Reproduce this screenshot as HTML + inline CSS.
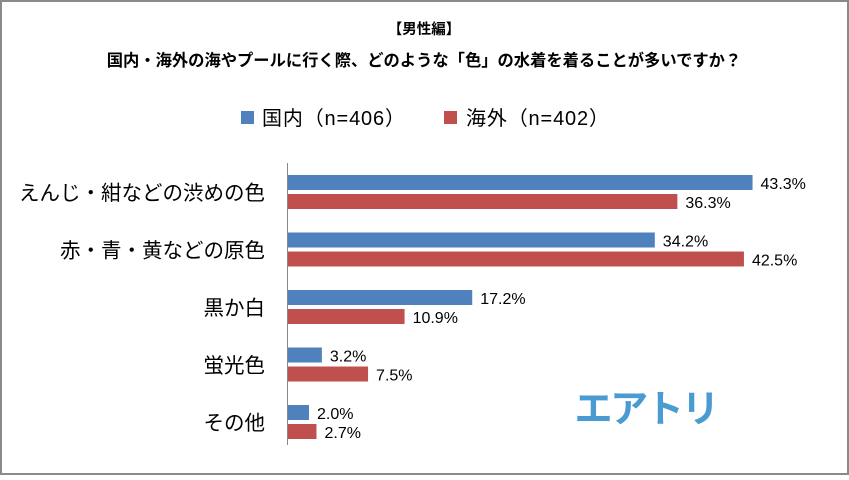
<!DOCTYPE html>
<html><head><meta charset="utf-8"><style>
body{margin:0;background:#fff}
svg text{font-family:"Liberation Sans","Noto Sans CJK JP",sans-serif}
</style></head><body>
<svg width="849" height="475" xmlns="http://www.w3.org/2000/svg">
<rect x="1" y="1" width="847" height="473" fill="#fff" stroke="#8a8a8a" stroke-width="2"/>
<text x="424" y="34" font-size="14.5" font-weight="bold" text-anchor="middle">【男性編】</text>
<text x="424" y="66" font-size="16.3" font-weight="bold" text-anchor="middle">国内・海外の海やプールに行く際、どのような「色」の水着を着ることが多いですか？</text>
<g>
<rect x="241" y="111" width="13" height="13" fill="#4f81bd"/>
<text x="262" y="125" font-size="20" textLength="143">国内（n=406）</text>
<rect x="444" y="111" width="13" height="13" fill="#c0504d"/>
<text x="466" y="125" font-size="20" textLength="143">海外（n=402）</text>
</g>
<g id="plot"></g>
<line x1="287.5" y1="163" x2="287.5" y2="445" stroke="#888" stroke-width="1"/>
<text x="647" y="422" font-size="38" font-weight="bold" fill="#4a9bd1" text-anchor="middle" textLength="145">エアトリ</text>
</svg>
<script>
const categories=["えんじ・紺などの渋めの色","赤・青・黄などの原色","黒か白","蛍光色","その他"];
const domestic=[43.3,34.2,17.2,3.2,2.0];
const overseas=[36.3,42.5,10.9,7.5,2.7];
const ns="http://www.w3.org/2000/svg";
const g=document.getElementById("plot");
const x0=287.5, k=10.74;
const xs=v=>x0+v*k;
const gy=i=>192+i*57.5;
function mk(t,a){const e=document.createElementNS(ns,t);for(const n in a)e.setAttribute(n,a[n]);g.appendChild(e);return e;}
categories.forEach((c,i)=>{
 const y=gy(i);
 const t=mk("text",{x:265,y:y+8,"font-size":20.5,"text-anchor":"end"});t.textContent=c;
 
 
 [[domestic,"#4f81bd",-17],[overseas,"#c0504d",2]].forEach(([arr,col,off],j)=>{
  const v=arr[i];
  const r=mk("rect",{x:x0,y:y+off,width:xs(v)-x0,height:15,fill:col});
  
  
  const l=mk("text",{x:xs(v)+8,y:y+off+14,"font-size":16});l.textContent=v.toFixed(1)+"%";
  
  
 });
});
</script>
</body></html>
